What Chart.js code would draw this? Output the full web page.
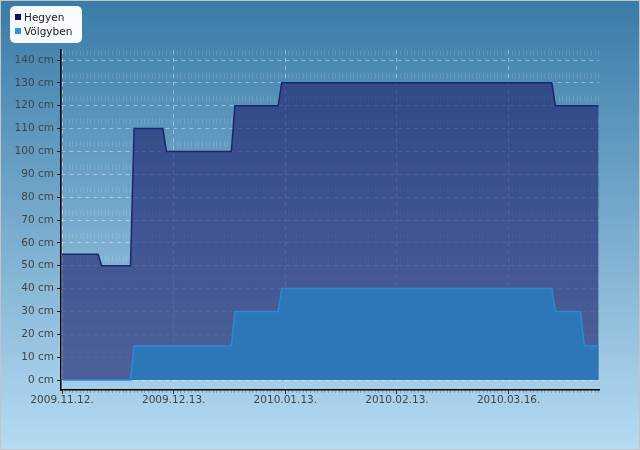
<!DOCTYPE html>
<html>
<head>
<meta charset="utf-8">
<script src="https://cdn.jsdelivr.net/npm/chart.js@4/dist/chart.umd.min.js"></script>
<style>
  html, body { margin: 0; padding: 0; background: #fff; }
  #wrap { width: 640px; height: 450px; }
</style>
</head>
<body>
<div id="wrap"><canvas id="chart"></canvas></div>
<script>
// days counted from 2009.11.12., only the days where the depth changes
const hegyenDays = [0, 10, 11, 19, 20, 28, 29, 47, 48, 60, 61, 136, 137, 149];
const hegyenCm   = [55, 55, 50, 50, 110, 110, 100, 100, 120, 120, 130, 130, 120, 120];
const volgyDays  = [0, 19, 20, 47, 48, 60, 61, 136, 137, 144, 145, 149];
const volgyCm    = [0, 0, 15, 15, 30, 30, 40, 40, 30, 30, 15, 15];
const tickLabels = ['2009.11.12.', '2009.12.13.', '2010.01.13.', '2010.02.13.', '2010.03.16.'];

const toPoints = (xs, ys) => xs.map((x, i) => ({ x: x, y: ys[i] }));

const FONT = { family: 'DejaVu Sans', size: 10.5 };

// gradient behind everything + thin frame
const background = {
    id: 'background',
    beforeDraw(chart) {
        const ctx = chart.ctx, w = chart.width, h = chart.height;
        const g = ctx.createLinearGradient(0, 0, 0, h);
        g.addColorStop(0, '#3a7ba8');
        g.addColorStop(1, '#b6dbf3');
        ctx.save();
        ctx.fillStyle = g;
        ctx.fillRect(0, 0, w, h);
        ctx.strokeStyle = '#c4c4c4';
        ctx.lineWidth = 1;
        ctx.strokeRect(0.5, 0.5, w - 1, h - 1);
        ctx.restore();
    }
};

// legend in a white rounded box, top left
const boxLegend = {
    id: 'boxLegend',
    afterDraw(chart) {
        const ctx = chart.ctx;
        ctx.save();
        ctx.fillStyle = '#f7fbff';
        ctx.beginPath();
        ctx.roundRect(10, 6, 72, 37, 5);
        ctx.fill();
        ctx.font = '10.5px "DejaVu Sans"';
        ctx.textBaseline = 'alphabetic';
        chart.data.datasets.forEach((ds, i) => {
            const y = 14 + i * 14;
            ctx.fillStyle = ds.legendColor;
            ctx.fillRect(15, y, 6, 6);
            ctx.fillStyle = '#222';
            ctx.fillText(ds.label, 24, y + 6.5);
        });
        ctx.restore();
    }
};

new Chart(document.getElementById('chart'), {
    type: 'line',
    data: {
        datasets: [
            {
                label: 'Hegyen',
                data: toPoints(hegyenDays, hegyenCm),
                borderColor: '#1c2670',
                backgroundColor: 'rgba(34, 40, 112, 0.66)',
                legendColor: '#0e0f5e',
                borderWidth: 1.5,
                pointRadius: 0,
                fill: 'origin',
                lineTension: 0,
                order: 2
            },
            {
                label: 'Völgyben',
                data: toPoints(volgyDays, volgyCm),
                borderColor: '#2a88d4',
                backgroundColor: 'rgba(44, 120, 186, 0.97)',
                legendColor: '#2a96e0',
                borderWidth: 1.5,
                pointRadius: 0,
                fill: 'origin',
                lineTension: 0,
                order: 1
            }
        ]
    },
    options: {
        responsive: true,
        maintainAspectRatio: false,
        animation: false,
        layout: { padding: { top: 50, right: 41, bottom: 30, left: 0 } },
        plugins: {
            legend: { display: false },
            tooltip: { enabled: false }
        },
        scales: {
            x: {
                type: 'linear',
                position: 'bottom',
                weight: 1,
                min: -0.3,
                max: 149.1,
                afterFit: s => { s.height = 30; },
                border: { color: '#000', width: 1.5, dash: [4, 4] },
                grid: {
                    color: 'rgba(255,255,255,0.4)',
                    tickColor: '#222',
                    tickLength: 4
                },
                ticks: {
                    stepSize: 31,
                    autoSkip: false,
                    includeBounds: false,
                    maxRotation: 0,
                    padding: 0,
                    color: '#444',
                    font: FONT,
                    callback: v => tickLabels[Math.round(v / 31)]
                }
            },
            x2: {
                type: 'linear',
                position: 'bottom',
                weight: 0,
                min: -0.3,
                max: 149.1,
                afterFit: s => { s.height = 0; },
                border: { display: false, dash: [5.7, 17.16] },
                grid: {
                    color: 'rgba(255,255,255,0.13)',
                    tickColor: 'rgba(70,90,120,0.35)',
                    tickLength: 3
                },
                ticks: { display: false, stepSize: 1, autoSkip: false, includeBounds: false }
            },
            y: {
                min: -4.375,
                max: 144.375,
                afterFit: s => { s.width = 61; },
                border: { color: '#000', width: 1.5, dash: [4, 4] },
                grid: {
                    color: 'rgba(255,255,255,0.4)',
                    tickColor: '#222',
                    tickLength: 4
                },
                ticks: {
                    stepSize: 10,
                    includeBounds: false,
                    padding: 3,
                    color: '#444',
                    font: FONT,
                    callback: v => v + ' cm'
                }
            }
        }
    },
    plugins: [background, boxLegend]
});
</script>
</body>
</html>
